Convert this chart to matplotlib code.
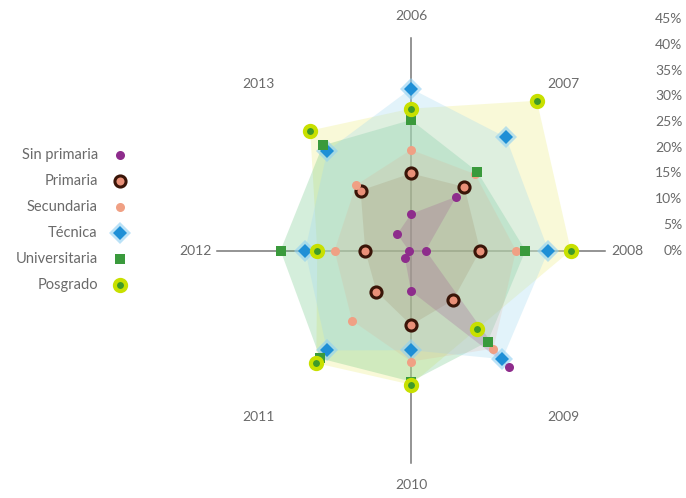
import numpy as np
import matplotlib.pyplot as plt

years = ['2006', '2007', '2008', '2009', '2010', '2011', '2012', '2013']
series = ['Sin primaria', 'Primaria', 'Secundaria', 'Técnica', 'Universitaria', 'Posgrado']

sin_primaria = [7.1, 14.8, 3.4, 32.0, 7.9, 2.0, 0.5, 4.5]
primaria = [15.0, 17.5, 16.0, 13.7, 14.5, 11.3, 10.6, 16.5]
secundaria = [19.6, 21.0, 24.3, 27.0, 21.6, 19.3, 17.7, 18.0]
tecnica = [31.5, 31.1, 31.8, 29.9, 19.4, 27.5, 24.5, 27.4]
universitaria = [25.4, 21.7, 26.5, 25.1, 25.5, 29.7, 30.2, 28.9]
posgrado = [27.6, 41.2, 37.0, 21.6, 26.1, 31.0, 21.7, 33.0]

pct_ticks = [0, 5, 10, 15, 20, 25, 30, 35, 40, 45]

values = [sin_primaria, primaria, secundaria, tecnica, universitaria, posgrado]
fills = ['#9a4a90', '#8a6a40', '#e89a78', '#a0d8f0', '#66c47e', '#eef090']
fill_alpha = [0.22, 0.15, 0.15, 0.30, 0.28, 0.35]

# marker styles: (marker, size, face, edge, edge width, halo colour, halo size)
styles = [
    ('o', 6.5, '#8e2c8c', '#8e2c8c', 0, None, 0),
    ('o', 8, '#e99078', '#3a1508', 2.2, None, 0),
    ('o', 6.5, '#f0a084', '#f0a084', 0, None, 0),
    ('D', 7, '#1e8fd6', '#1e8fd6', 0, '#8fd0f2', 11),
    ('s', 7.5, '#3a9a3c', '#3a9a3c', 0, None, 0),
    ('o', 8, '#3f9a2a', '#c8e000', 3, None, 0),
]

angles = np.pi / 2 - np.arange(len(years)) * 2 * np.pi / len(years)

fig = plt.figure(figsize=(6.86, 4.98), dpi=100)
ax = fig.add_axes([0, 0, 1, 1])
ax.set_xlim(-411 / 4.32, (686 - 411) / 4.32)
ax.set_ylim(-(498 - 250.5) / 5.14, 250.5 / 5.14)
ax.axis('off')

font = ['Lato', 'DejaVu Sans']
grey = '#6a6a6a'

# axis cross
ax.plot([-45, 45], [0, 0], color='#777777', lw=1.1, zorder=1)
ax.plot([0, 0], [-41.3, 41.3], color='#777777', lw=1.1, zorder=1)

# biggest (outer) series first so the inner ones tint on top
for vals, fc, a in list(zip(values, fills, fill_alpha))[::-1]:
    r = np.array(vals)
    ax.fill(r * np.cos(angles), r * np.sin(angles), color=fc, alpha=a, lw=0, zorder=2)

for vals, st in zip(values, styles):
    r = np.array(vals)
    x, y = r * np.cos(angles), r * np.sin(angles)
    m, ms, fc, ec, mew, halo, hs = st
    if halo:
        ax.plot(x, y, ls='none', marker=m, ms=hs, color=halo, alpha=0.6, mew=0, zorder=3)
    ax.plot(x, y, ls='none', marker=m, ms=ms, mfc=fc, mec=ec, mew=mew, zorder=4)

# year labels
for yr, a in zip(years, angles):
    ax.text(50 * np.cos(a), 45.7 * np.sin(a), yr, ha='center', va='center',
            fontsize=10, color=grey, family=font)

# radial percentage labels
for t in pct_ticks:
    ax.text(62.8, t, f'{t}%', ha='right', va='center', fontsize=10, color=grey,
            family=font)

# legend
for i, (name, st) in enumerate(zip(series, styles)):
    ly = 18.6 - i * 5.05
    ax.text(-72.5, ly, name, ha='right', va='center', fontsize=10.5, color=grey,
            family=font)
    m, ms, fc, ec, mew, halo, hs = st
    if halo:
        ax.plot(-67.4, ly, marker=m, ms=hs, color=halo, alpha=0.6, mew=0)
    ax.plot(-67.4, ly, marker=m, ms=ms, mfc=fc, mec=ec, mew=mew)

fig.savefig('out.png', dpi=100)
